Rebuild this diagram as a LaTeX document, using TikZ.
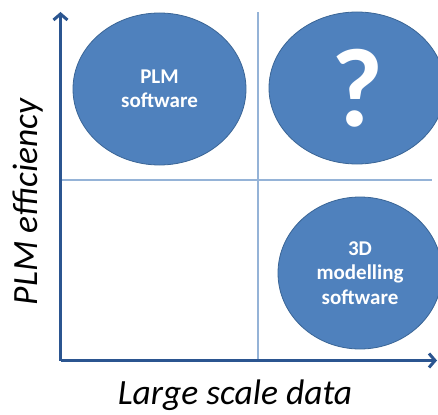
\documentclass[tikz,border=0pt]{standalone}
\usepackage{fontspec}
\setmainfont{Carlito}
\usetikzlibrary{shapes.geometric, arrows.meta, positioning}

\definecolor{bubblefill}{HTML}{4F81BD}
\definecolor{bubbleedge}{HTML}{3A6596}
\definecolor{axisblue}{HTML}{2B5590}
\definecolor{gridblue}{HTML}{95B3D7}

\begin{document}
\begin{tikzpicture}[
    x=1pt, y=-1pt,
    bubble/.style={
        ellipse,
        minimum height=152pt,
        inner sep=0pt,
        fill=bubblefill,
        draw=bubbleedge,
        line width=0.8pt,
        text=white,
        align=center,
        font=\bfseries\fontsize{21}{24.5}\selectfont
    },
    axis/.style={line width=3pt, draw=axisblue, -{Straight Barb[length=6pt, width=14pt]}},
    divider/.style={line width=1.5pt, draw=gridblue},
    axislabel/.style={font=\itshape\fontsize{35.5}{40}\selectfont, inner sep=0pt}
]

    \useasboundingbox (0,0) rectangle (438,414);
    \clip (0,0) rectangle (438,414);

    % Quadrant lines
    \coordinate (vtop) at (258,12);
    \coordinate (vbot) at (258,360);
    \coordinate (hleft) at (62,180);
    \coordinate (hright) at (432,180);
    \draw [divider] (vbot) -- (vtop);
    \draw [divider] (hleft) -- (hright);

    % Axes
    \coordinate (origin) at (60.5,360.5);
    \coordinate (ytop) at (60.5,12);
    \coordinate (xend) at (437,360.5);
    \draw [axis] (origin) -- (ytop);
    \draw [axis] (origin) -- (xend);

    % Define nodes
    \node (plm) [bubble, minimum width=173pt] at (159.5,89) {PLM\\software};
    \node (unknown) [bubble, minimum width=176pt, font=\bfseries\fontsize{112}{112}\selectfont] at (357,88) {?};
    \node (cad) [bubble, minimum width=164pt] at (360,273) {3D\\modelling\\software};

    % Axis labels
    \node (ylabel) [axislabel, rotate=90] at (28,202) {PLM efficiency};
    \node (xlabel) [axislabel, anchor=base] at (235,404) {Large scale data};

\end{tikzpicture}
\end{document}
